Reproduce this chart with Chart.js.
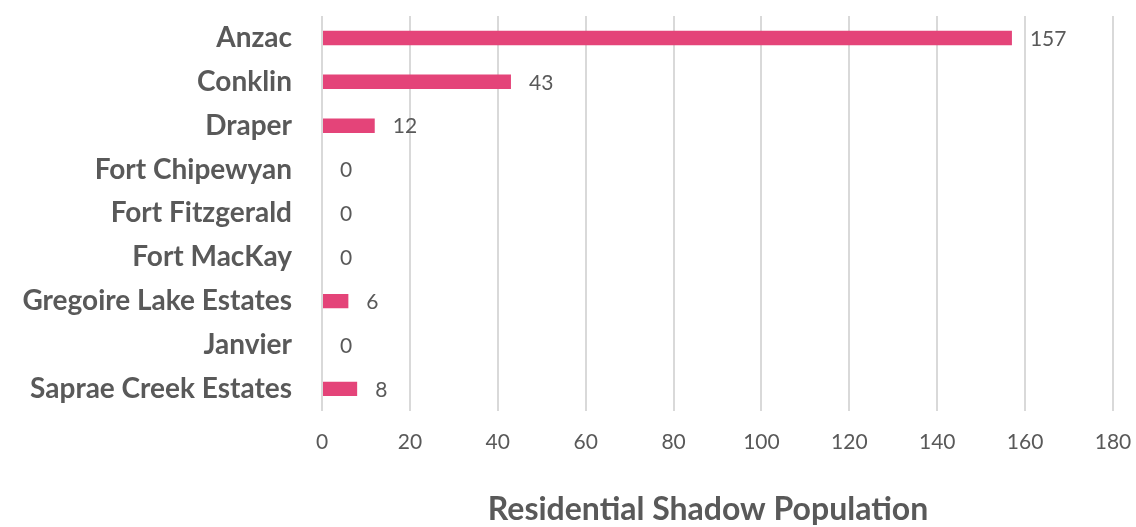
<!DOCTYPE html>
<html>
<head>
<meta charset="utf-8">
<script src="https://cdn.jsdelivr.net/npm/chart.js@4.4.1/dist/chart.umd.min.js"></script>
<style>
  html, body { margin: 0; padding: 0; background: #fff; }
  #wrap { width: 1136px; height: 527px; position: relative; }
</style>
</head>
<body>
<div id="wrap"><canvas id="c"></canvas></div>
<script>
const communities = [
  'Anzac', 'Conklin', 'Draper', 'Fort Chipewyan', 'Fort Fitzgerald',
  'Fort MacKay', 'Gregoire Lake Estates', 'Janvier', 'Saprae Creek Estates'
];
const shadowPopulation = [157, 43, 12, 0, 0, 0, 6, 0, 8];
const xTicks = [0, 20, 40, 60, 80, 100, 120, 140, 160, 180];
const axisTitle = 'Residential Shadow Population';

const textGrey = '#595959';
const fontFamily = 'Lato, "Open Sans", sans-serif';

// value labels just past the end of each bar
const valueLabels = {
  id: 'valueLabels',
  afterDatasetsDraw(chart) {
    const { ctx } = chart;
    const meta = chart.getDatasetMeta(0);
    ctx.save();
    ctx.font = '21px ' + fontFamily;
    ctx.fillStyle = textGrey;
    ctx.textAlign = 'left';
    ctx.textBaseline = 'middle';
    meta.data.forEach((bar, i) => {
      ctx.fillText(String(shadowPopulation[i]), bar.x + 18, bar.y + 1);
    });
    ctx.restore();
  }
};

// axis title under the tick labels
const axisTitlePlugin = {
  id: 'axisTitlePlugin',
  afterDraw(chart) {
    const { ctx } = chart;
    ctx.save();
    ctx.font = 'bold 32px ' + fontFamily;
    ctx.fillStyle = textGrey;
    ctx.textAlign = 'center';
    ctx.textBaseline = 'middle';
    ctx.fillText(axisTitle, 708, 510);
    ctx.restore();
  }
};

new Chart(document.getElementById('c'), {
  type: 'bar',
  data: {
    labels: communities,
    datasets: [{
      data: shadowPopulation,
      backgroundColor: '#E44479',
      borderWidth: 0,
      barPercentage: 0.66,
      categoryPercentage: 0.5
    }]
  },
  options: {
    indexAxis: 'y',
    responsive: true,
    maintainAspectRatio: false,
    animation: false,
    layout: { padding: { top: 16, right: 23, bottom: 53, left: 0 } },
    plugins: { legend: { display: false }, tooltip: { enabled: false } },
    scales: {
      x: {
        min: 0,
        max: 180,
        afterBuildTicks(scale) { scale.ticks = xTicks.map(v => ({ value: v })); },
        afterFit(scale) { scale.paddingLeft = 0; scale.paddingRight = 0; },
        grid: { color: '#D9D9D9', lineWidth: 2, drawTicks: false },
        border: { display: false },
        ticks: { color: textGrey, font: { family: fontFamily, size: 21 }, padding: 19 }
      },
      y: {
        afterFit(scale) {
          scale.width = 322;
          scale.paddingTop = 0;
          scale.paddingBottom = 0;
        },
        grid: { display: false, drawTicks: false },
        border: { display: false },
        ticks: {
          color: textGrey,
          font: { family: fontFamily, size: 28, weight: 'bold' },
          padding: 30
        }
      }
    }
  },
  plugins: [valueLabels, axisTitlePlugin]
});
</script>
</body>
</html>
